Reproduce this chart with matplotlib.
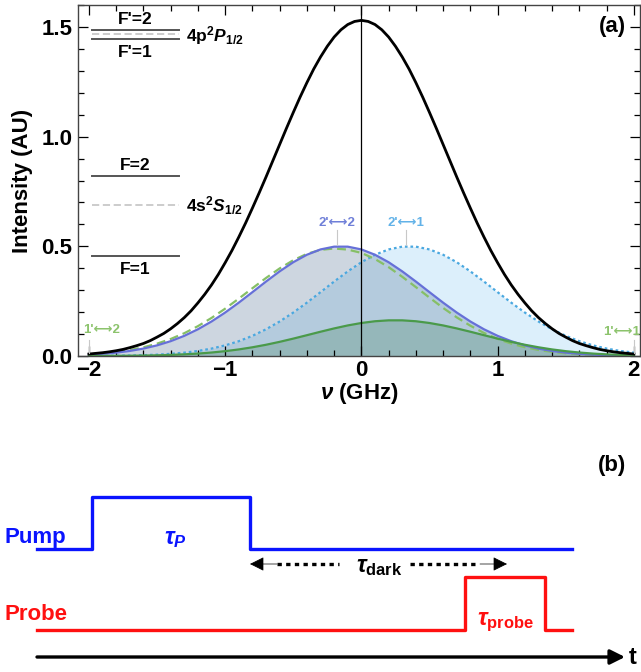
import numpy as np
import matplotlib
matplotlib.use("Agg")
import matplotlib.pyplot as plt

plt.rcParams['font.family'] = ['Liberation Sans', 'DejaVu Sans']
plt.rcParams['font.weight'] = 'bold'
plt.rcParams['axes.labelweight'] = 'bold'
plt.rcParams['mathtext.fontset'] = 'custom'
plt.rcParams['mathtext.rm'] = 'Liberation Sans:bold'
plt.rcParams['mathtext.it'] = 'Liberation Sans:italic:bold'
plt.rcParams['mathtext.bf'] = 'Liberation Sans:bold'

# --- panel (a): Doppler profiles, detuning in GHz ---
nu = np.round(np.arange(-2.0, 2.01, 0.1), 2)
nu_fine = np.round(np.arange(-2.0, 2.001, 0.05), 3)

laser = [0.009, 0.012, 0.015, 0.019, 0.024, 0.030, 0.038, 0.047, 0.057, 0.070,
         0.086, 0.103, 0.124, 0.148, 0.175, 0.206, 0.242, 0.281, 0.324, 0.372,
         0.425, 0.481, 0.542, 0.606, 0.674, 0.744, 0.816, 0.890, 0.964, 1.038,
         1.110, 1.180, 1.246, 1.308, 1.363, 1.412, 1.454, 1.487, 1.511, 1.525,
         1.530,
         1.525, 1.511, 1.487, 1.454, 1.412, 1.363, 1.308, 1.246, 1.180, 1.110,
         1.038, 0.964, 0.890, 0.816, 0.744, 0.674, 0.606, 0.542, 0.481, 0.425,
         0.372, 0.324, 0.281, 0.242, 0.206, 0.175, 0.148, 0.124, 0.103, 0.086,
         0.070, 0.057, 0.047, 0.038, 0.030, 0.024, 0.019, 0.015, 0.012, 0.009]

f22 = [0.0062, 0.0099, 0.0153, 0.0230, 0.0338, 0.0484, 0.0675, 0.0918, 0.1217, 0.1572,
       0.1980, 0.2431, 0.2909, 0.3393, 0.3857, 0.4274, 0.4615, 0.4858, 0.4984, 0.4984,
       0.4858, 0.4615, 0.4274, 0.3857, 0.3393, 0.2909, 0.2431, 0.1980, 0.1572, 0.1217,
       0.0918, 0.0675, 0.0484, 0.0338, 0.0230, 0.0153, 0.0099, 0.0062, 0.0038, 0.0023,
       0.0013]

f22_green = [0.0077, 0.0121, 0.0184, 0.0274, 0.0397, 0.0562, 0.0774, 0.1039, 0.1360, 0.1735,
             0.2157, 0.2615, 0.3088, 0.3556, 0.3991, 0.4366, 0.4655, 0.4838, 0.4900, 0.4850,
             0.4700, 0.4420, 0.4050, 0.3610, 0.3140, 0.2660, 0.2190, 0.1760, 0.1380, 0.1050,
             0.0780, 0.0565, 0.0400, 0.0276, 0.0185, 0.0121, 0.0077, 0.0048, 0.0029, 0.0017,
             0.0010]

f21 = [0.0004, 0.0008, 0.0013, 0.0023, 0.0038, 0.0062, 0.0099, 0.0153, 0.0230, 0.0338,
       0.0484, 0.0675, 0.0918, 0.1217, 0.1572, 0.1980, 0.2431, 0.2909, 0.3393, 0.3857,
       0.4274, 0.4615, 0.4858, 0.4984, 0.4984, 0.4858, 0.4615, 0.4274, 0.3857, 0.3393,
       0.2909, 0.2431, 0.1980, 0.1572, 0.1217, 0.0918, 0.0675, 0.0484, 0.0338, 0.0230,
       0.0153]

f1x = [0.0002, 0.0004, 0.0007, 0.0012, 0.0020, 0.0032, 0.0050, 0.0075, 0.0110, 0.0158,
       0.0220, 0.0299, 0.0397, 0.0512, 0.0645, 0.0792, 0.0948, 0.1106, 0.1257, 0.1393,
       0.1504, 0.1584, 0.1625, 0.1625, 0.1584, 0.1504, 0.1393, 0.1257, 0.1106, 0.0948,
       0.0792, 0.0645, 0.0512, 0.0397, 0.0299, 0.0220, 0.0158, 0.0110, 0.0075, 0.0050,
       0.0032]

# transition labels: (text, position GHz, label height, colour)
trans_labels = [("2'\u27f72", -0.18, 0.605, '#6f7fd8'),
                ("2'\u27f71", 0.33, 0.605, '#62b2e8'),
                ("1'\u27f72", -1.91, 0.118, '#8cc36c'),
                ("1'\u27f71", 1.91, 0.108, '#8cc36c')]
trans_ticks = [(-0.18, 0.505, 0.575), (0.33, 0.505, 0.575), (-2.0, 0.014, 0.075), (2.0, 0.014, 0.075)]

# energy levels (AU positions of the sketch)
level_solid = [1.487, 1.444, 0.820, 0.456]
level_center = [1.468, 0.689]
level_text = [("F'=2", 1.535), ("F'=1", 1.385), ("F=2", 0.868), ("F=1", 0.396)]

fig = plt.figure(figsize=(6.41, 6.72), dpi=100)
ax = fig.add_axes([78/641, 1-356/672, 562/641, 351/672])

ax.fill_between(nu, f21, color='#a8d8f5', alpha=0.4, lw=0)
ax.fill_between(nu, f22, color='#5a7a9a', alpha=0.3, lw=0)
ax.fill_between(nu, f1x, color='#4f8a6a', alpha=0.3, lw=0)

ax.plot(nu, f21, color='#4aa8e0', lw=1.6, ls=(0, (1.2, 1.3)))
ax.plot(nu, f22_green, color='#86bf66', lw=1.6, ls=(0, (4, 2.2)))
ax.plot(nu, f22, color='#6670d8', lw=1.6)
ax.plot(nu, f1x, color='#4a9a4a', lw=1.6)
ax.plot(nu_fine, laser, color='black', lw=2.0)
ax.axvline(0, color='black', lw=0.9)

for x, y0, y1 in trans_ticks:
    ax.plot([x, x], [y0, y1], color='#c8c8c8', lw=0.8)
for txt, x, y, c in trans_labels:
    ax.text(x, y, txt, color=c, fontsize=9.5, ha='center', va='center',
            family=['Liberation Sans', 'DejaVu Sans'], clip_on=True)

for y in level_solid:
    ax.plot([-1.98, -1.34], [y, y], color='#555555', lw=1.4)
for y in level_center:
    ax.plot([-1.98, -1.34], [y, y], color='#c8c8c8', lw=1.3, ls=(0, (4, 2)))
for txt, y in level_text:
    ax.text(-1.66, y, txt, fontsize=12.5, ha='center', va='center')
ax.text(-1.29, 1.462, r'4p$^2$$P_{1/2}$', fontsize=12.5, ha='left', va='center')
ax.text(-1.29, 0.684, r'4s$^2$$S_{1/2}$', fontsize=12.5, ha='left', va='center')

ax.text(0.975, 0.94, '(a)', transform=ax.transAxes, fontsize=16, ha='right', va='center')

ax.set_xlim(-2.08, 2.045)
ax.set_ylim(0, 1.6)
ax.set_xticks([-2, -1, 0, 1, 2])
ax.set_xticks(np.arange(-2, 2.01, 0.2), minor=True)
ax.set_yticks([0, 0.5, 1.0, 1.5])
ax.set_yticks(np.arange(0, 1.61, 0.1), minor=True)
ax.set_yticklabels(['0.0', '0.5', '1.0', '1.5'])
ax.tick_params(which='both', direction='in', top=True, right=True, labelsize=16, width=0.9)
ax.tick_params(which='major', length=7, pad=4)
ax.tick_params(axis='x', which='major', pad=3)
ax.tick_params(which='minor', length=4)
for s in ax.spines.values():
    s.set_color('#444444')
    s.set_linewidth(1.0)
ax.set_ylabel('Intensity (AU)', fontsize=16, labelpad=6)
ax.set_xlabel(r'$\nu$ (GHz)', fontsize=16, labelpad=0)

# --- panel (b): pulse timing ---
pump_t = [0, 55, 213, 535]
pump_on = [0, 1, 0, 0]
probe_t = [0, 428, 508, 535]
probe_on = [0, 1, 0, 0]

ax2 = fig.add_axes([0, 0, 1, 232/672])
ax2.set_xlim(-37, 604)
ax2.set_ylim(0, 232)
ax2.axis('off')

ax2.step(pump_t, 123 + 52*np.array(pump_on), where='post', color='#0a14ff', lw=2.4)
ax2.step(probe_t, 42 + 53*np.array(probe_on), where='post', color='#ff1010', lw=2.4)

ax2.text(-32, 135, 'Pump', color='#0a14ff', fontsize=16, ha='left', va='center')
ax2.text(-32, 57, 'Probe', color='#ff1010', fontsize=16, ha='left', va='center')
ax2.text(138, 133, r'$\tau_P$', color='#0a14ff', fontsize=17, ha='center', va='center')
ax2.text(469, 50, r'$\tau_{\rm probe}$', color='#ff1010', fontsize=17, ha='center', va='center')
ax2.text(342, 106, r'$\tau_{\rm dark}$', color='black', fontsize=17, ha='center', va='center')

ax2.plot([240, 302], [108, 108], color='black', lw=2.4, ls=(0, (1.3, 1.3)))
ax2.plot([373, 440], [108, 108], color='black', lw=2.4, ls=(0, (1.3, 1.3)))
ax2.annotate('', xy=(213, 108), xytext=(240, 108),
             arrowprops=dict(arrowstyle='-|>', color='black', lw=0.5, mutation_scale=22,
                             shrinkA=0, shrinkB=0))
ax2.annotate('', xy=(470, 108), xytext=(443, 108),
             arrowprops=dict(arrowstyle='-|>', color='black', lw=0.5, mutation_scale=22,
                             shrinkA=0, shrinkB=0))

ax2.annotate('', xy=(588, 15), xytext=(0, 15),
             arrowprops=dict(arrowstyle='-|>', color='black', lw=2.4, mutation_scale=22,
                             shrinkA=0, shrinkB=0))
ax2.text(596, 15, 't', fontsize=17, ha='center', va='center')
ax2.text(575, 207, '(b)', fontsize=16, ha='center', va='center')

fig.savefig('out.png', dpi=100)
